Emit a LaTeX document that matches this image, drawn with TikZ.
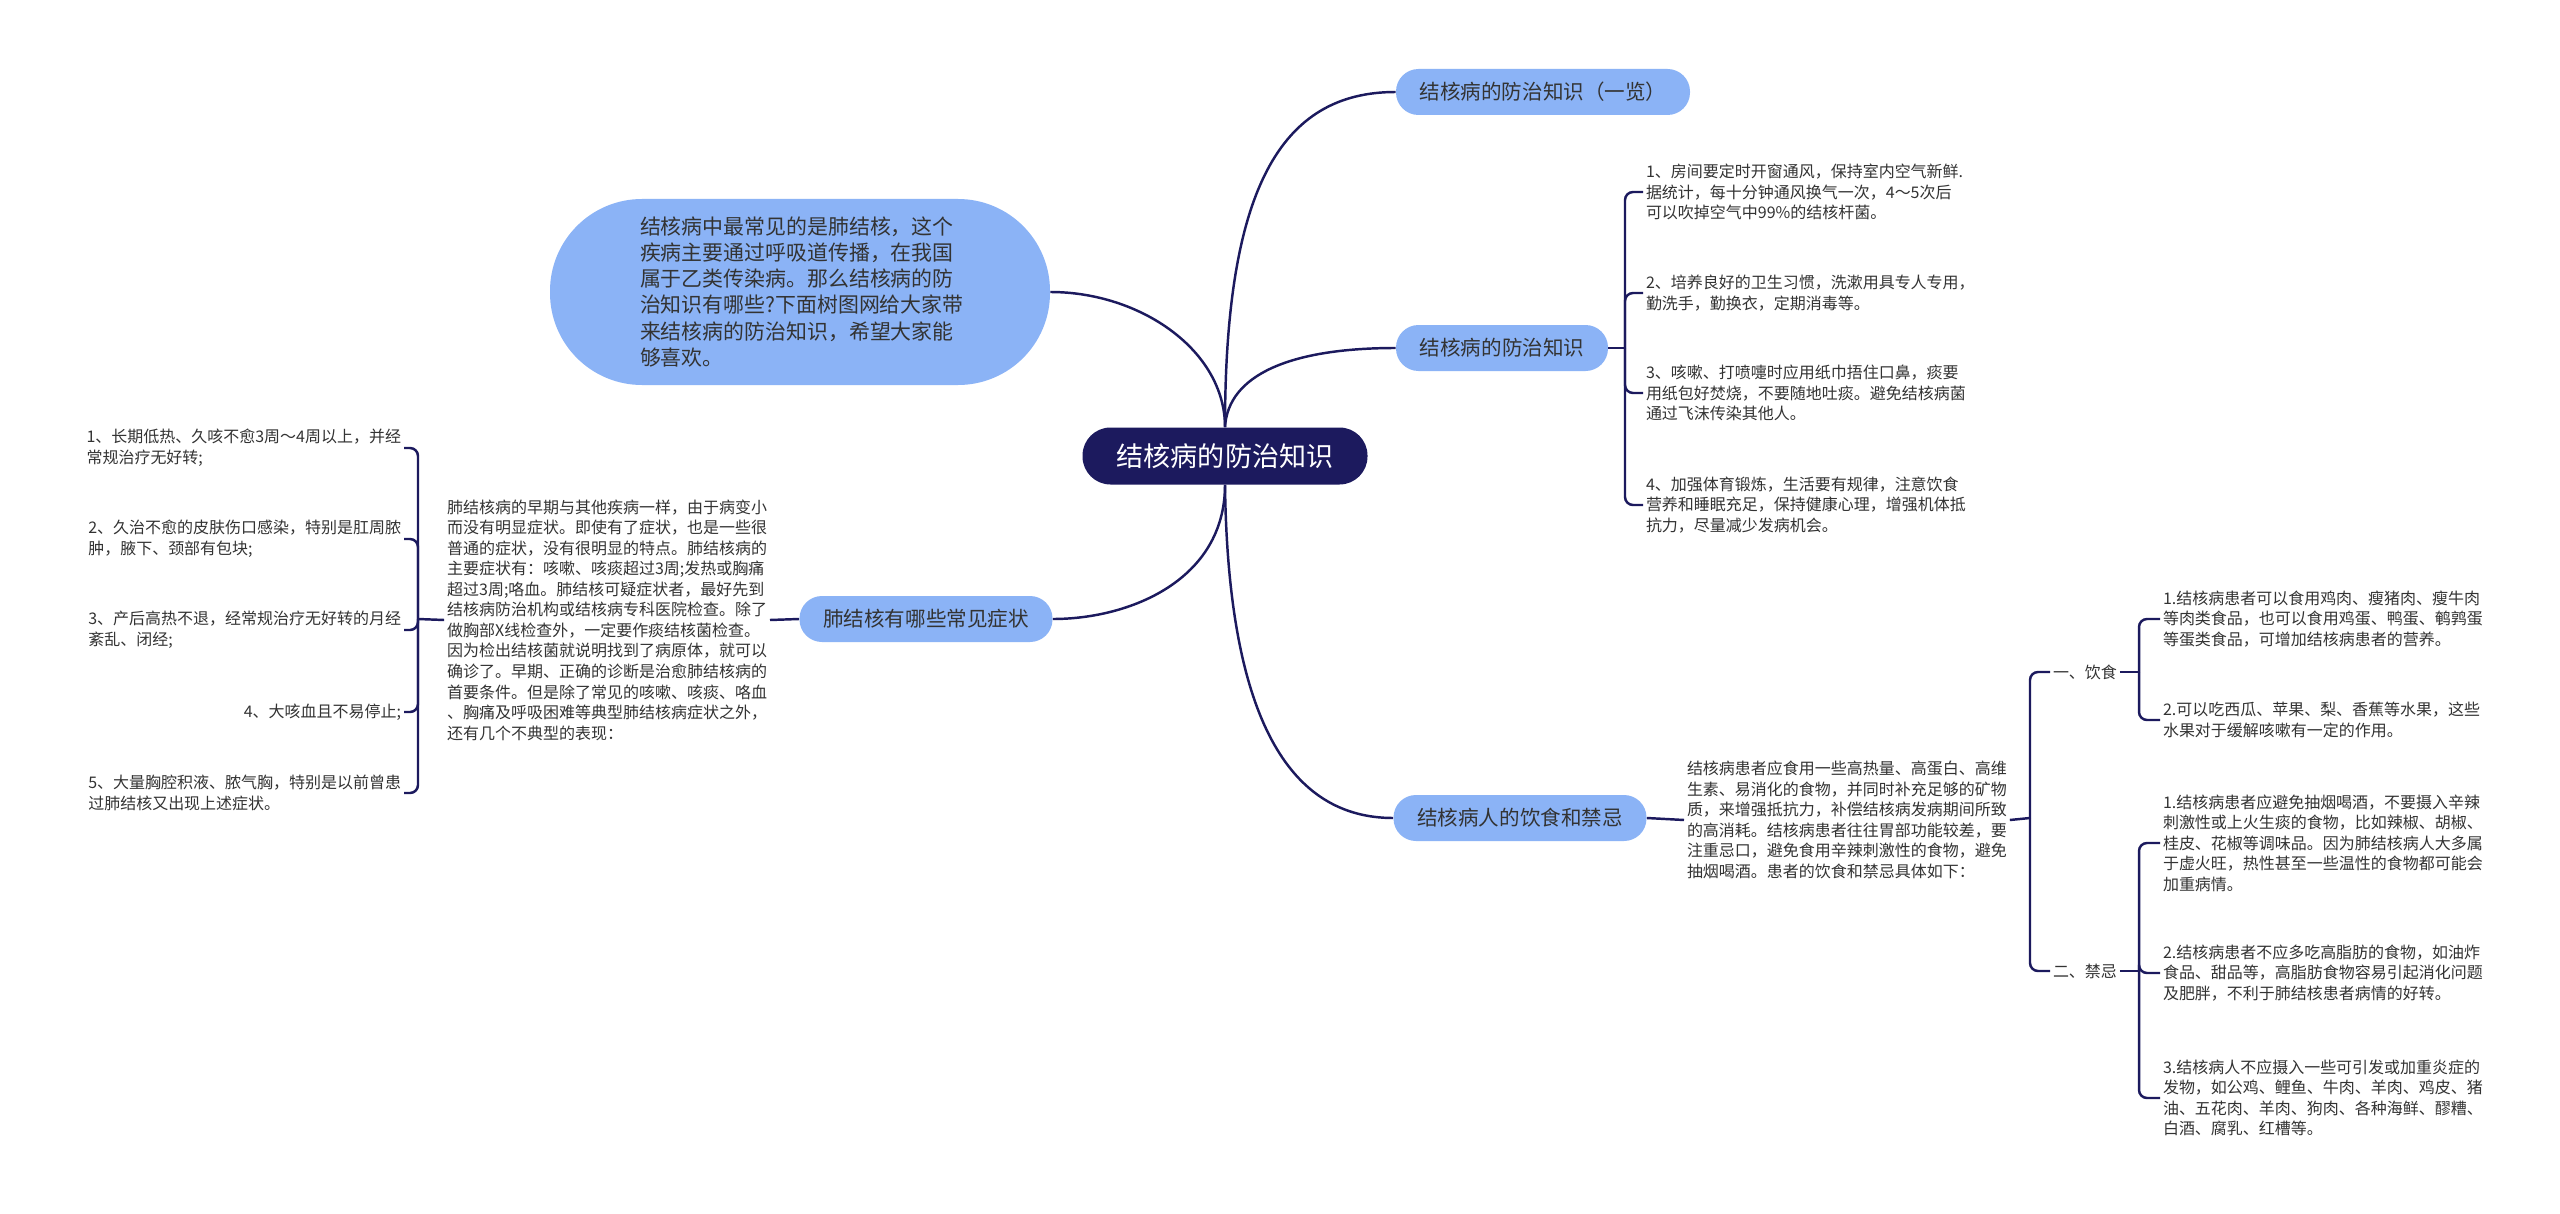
\documentclass[tikz,border=0pt]{standalone}
\usepackage{fontspec}
\setmainfont{Noto Sans CJK SC}
\definecolor{navy}{HTML}{1C1A5E}
\definecolor{pill}{HTML}{8BB3F6}
\definecolor{ink}{HTML}{333333}
\begin{document}
\begin{tikzpicture}[x=0.2mm,y=-0.2mm,
    link/.style={draw=navy,line width=1.4pt},
    bracket/.style={link,rounded corners=1.6mm},
    topic/.style={fill=pill,rounded corners=4.5mm,minimum height=9.2mm,text=ink,
      font=\fontsize{11.7}{14}\selectfont},
    leaf/.style={text=ink,align=left,inner sep=1.5pt,font=\fontsize{9.1}{11.7}\selectfont}]
  \fill[white] (0,0) rectangle (2560,1214);
  \useasboundingbox (0,0) rectangle (2560,1214);

  % centre and intro
  \node[fill=navy,text=white,rounded corners=5.6mm,minimum width=57mm,minimum height=11.4mm,
    font=\fontsize{15.4}{18}\selectfont] (root) at (1225,456) {结核病的防治知识};
  \node[fill=pill,rounded corners=18.4mm,minimum width=100mm,minimum height=37.2mm,
    text width=64mm,align=left,text=ink,font=\fontsize{11.9}{14.8}\selectfont] (intro) at (800,292)
    {结核病中最常见的是肺结核，这个\\疾病主要通过呼吸道传播，在我国\\属于乙类传染病。那么结核病的防\\治知识有哪些?下面树图网给大家带\\来结核病的防治知识，希望大家能\\够喜欢。};

  % main topics
  \node[topic,minimum width=58.8mm] (overview) at (1543,92) {结核病的防治知识（一览）};
  \node[topic,minimum width=42.4mm] (prevent) at (1502,348) {结核病的防治知识};
  \node[topic,minimum width=50.6mm] (diet) at (1520,818) {结核病人的饮食和禁忌};
  \node[topic,minimum width=50.6mm] (symptom) at (926,619) {肺结核有哪些常见症状};

  \draw[link] (root.north) .. controls (1225,350) and (1140,292) .. (intro.east);
  \draw[link] (root.north) .. controls (1225,190) and (1280,92) .. (overview.west);
  \draw[link] (root.north) .. controls (1228,375) and (1290,348) .. (prevent.west);
  \draw[link] (root.south) .. controls (1225,580) and (1130,619) .. (symptom.east);
  \draw[link] (root.south) .. controls (1228,720) and (1290,818) .. (diet.west);

  % prevention tips
  \node[leaf,anchor=west] (tip1) at (1643,192) {1、房间要定时开窗通风，保持室内空气新鲜.\\据统计，每十分钟通风换气一次，4～5次后\\可以吹掉空气中99\%的结核杆菌。};
  \node[leaf,anchor=west] (tip2) at (1643,293) {2、培养良好的卫生习惯，洗漱用具专人专用，\\勤洗手，勤换衣，定期消毒等。};
  \node[leaf,anchor=west] (tip3) at (1643,393) {3、咳嗽、打喷嚏时应用纸巾捂住口鼻，痰要\\用纸包好焚烧，不要随地吐痰。避免结核病菌\\通过飞沫传染其他人。};
  \node[leaf,anchor=west] (tip4) at (1643,505) {4、加强体育锻炼，生活要有规律，注意饮食\\营养和睡眠充足，保持健康心理，增强机体抵\\抗力，尽量减少发病机会。};
  \coordinate (jtip) at (1625,348);
  \draw[link] (prevent.east) -- (jtip);
  \draw[bracket] (jtip) |- (tip1.west);
  \draw[bracket] (jtip) |- (tip2.west);
  \draw[bracket] (jtip) |- (tip3.west);
  \draw[bracket] (jtip) |- (tip4.west);

  % diet and taboos
  \node[leaf,anchor=west] (dietnote) at (1684,820) {结核病患者应食用一些高热量、高蛋白、高维\\生素、易消化的食物，并同时补充足够的矿物\\质，来增强抵抗力，补偿结核病发病期间所致\\的高消耗。结核病患者往往胃部功能较差，要\\注重忌口，避免食用辛辣刺激性的食物，避免\\抽烟喝酒。患者的饮食和禁忌具体如下：};
  \draw[link] (diet.east) -- (dietnote.west);
  \node[leaf,anchor=west] (eat) at (2050,672) {一、饮食};
  \node[leaf,anchor=west] (avoid) at (2050,971) {二、禁忌};
  \coordinate (jdiet) at (2030,818);
  \draw[link] (dietnote.east) -- (jdiet);
  \draw[bracket] (jdiet) |- (eat.west);
  \draw[bracket] (jdiet) |- (avoid.west);

  \node[leaf,anchor=west] (eat1) at (2160,619) {1.结核病患者可以食用鸡肉、瘦猪肉、瘦牛肉\\等肉类食品，也可以食用鸡蛋、鸭蛋、鹌鹑蛋\\等蛋类食品，可增加结核病患者的营养。};
  \node[leaf,anchor=west] (eat2) at (2160,720) {2.可以吃西瓜、苹果、梨、香蕉等水果，这些\\水果对于缓解咳嗽有一定的作用。};
  \coordinate (jeat) at (2139,672);
  \draw[link] (eat.east) -- (jeat);
  \draw[bracket] (jeat) |- (eat1.west);
  \draw[bracket] (jeat) |- (eat2.west);

  \node[leaf,anchor=west] (avoid1) at (2160,843) {1.结核病患者应避免抽烟喝酒，不要摄入辛辣\\刺激性或上火生痰的食物，比如辣椒、胡椒、\\桂皮、花椒等调味品。因为肺结核病人大多属\\于虚火旺，热性甚至一些温性的食物都可能会\\加重病情。};
  \node[leaf,anchor=west] (avoid2) at (2160,973) {2.结核病患者不应多吃高脂肪的食物，如油炸\\食品、甜品等，高脂肪食物容易引起消化问题\\及肥胖，不利于肺结核患者病情的好转。};
  \node[leaf,anchor=west] (avoid3) at (2160,1098) {3.结核病人不应摄入一些可引发或加重炎症的\\发物，如公鸡、鲤鱼、牛肉、羊肉、鸡皮、猪\\油、五花肉、羊肉、狗肉、各种海鲜、醪糟、\\白酒、腐乳、红槽等。};
  \coordinate (javoid) at (2139,971);
  \draw[link] (avoid.east) -- (javoid);
  \draw[bracket] (javoid) |- (avoid1.west);
  \draw[bracket] (javoid) |- (avoid2.west);
  \draw[bracket] (javoid) |- (avoid3.west);

  % symptoms
  \node[leaf,anchor=east] (symnote) at (770,620) {肺结核病的早期与其他疾病一样，由于病变小\\而没有明显症状。即使有了症状，也是一些很\\普通的症状，没有很明显的特点。肺结核病的\\主要症状有：咳嗽、咳痰超过3周;发热或胸痛\\超过3周;咯血。肺结核可疑症状者，最好先到\\结核病防治机构或结核病专科医院检查。除了\\做胸部X线检查外，一定要作痰结核菌检查。\\因为检出结核菌就说明找到了病原体，就可以\\确诊了。早期、正确的诊断是治愈肺结核病的\\首要条件。但是除了常见的咳嗽、咳痰、咯血\\、胸痛及呼吸困难等典型肺结核病症状之外，\\还有几个不典型的表现：};
  \draw[link] (symptom.west) -- (symnote.east);
  \node[leaf,anchor=east] (sym1) at (404,448) {1、长期低热、久咳不愈3周～4周以上，并经\\常规治疗无好转;};
  \node[leaf,anchor=east] (sym2) at (404,539) {2、久治不愈的皮肤伤口感染，特别是肛周脓\\肿，腋下、颈部有包块;};
  \node[leaf,anchor=east] (sym3) at (404,630) {3、产后高热不退，经常规治疗无好转的月经\\紊乱、闭经;};
  \node[leaf,anchor=east] (sym4) at (404,712) {4、大咳血且不易停止;};
  \node[leaf,anchor=east] (sym5) at (404,793) {5、大量胸腔积液、脓气胸，特别是以前曾患\\过肺结核又出现上述症状。};
  \coordinate (jsym) at (418,619);
  \draw[link] (symnote.west) -- (jsym);
  \draw[bracket] (jsym) |- (sym1.east);
  \draw[bracket] (jsym) |- (sym2.east);
  \draw[bracket] (jsym) |- (sym3.east);
  \draw[bracket] (jsym) |- (sym4.east);
  \draw[bracket] (jsym) |- (sym5.east);
\end{tikzpicture}
\end{document}
